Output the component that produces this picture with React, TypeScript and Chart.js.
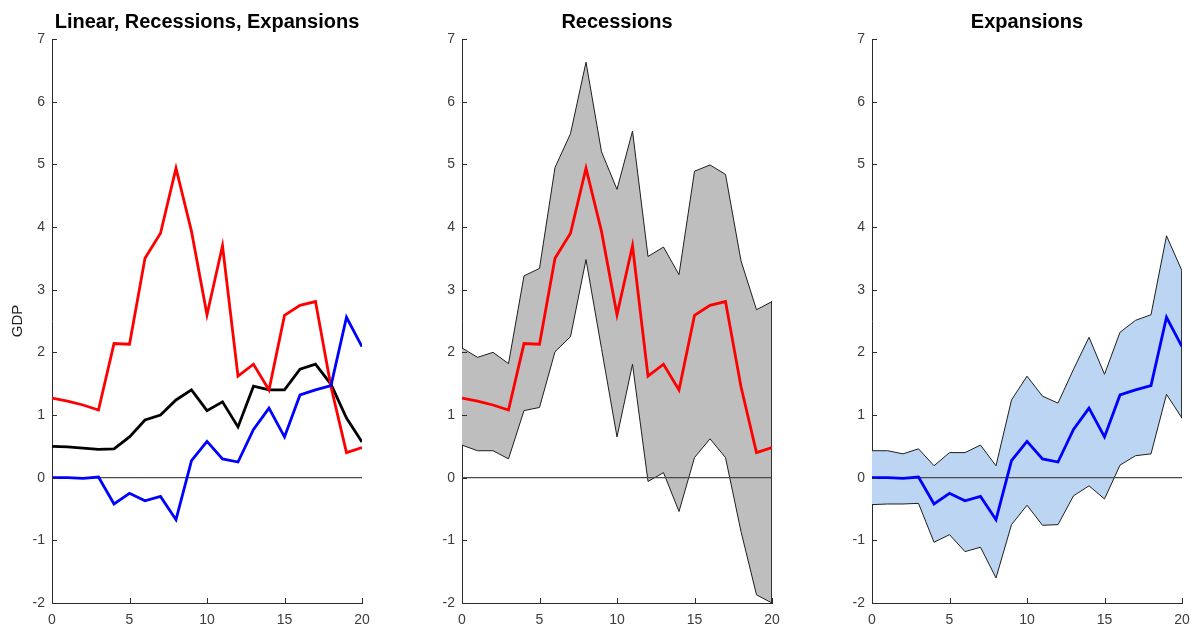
import React, { useEffect, useRef } from "react";
import { Chart, registerables } from "chart.js";

Chart.register(...registerables);

// ---------- data ----------
const horizons = [0, 1, 2, 3, 4, 5, 6, 7, 8, 9, 10, 11, 12, 13, 14, 15, 16, 17, 18, 19, 20];

const linearGDP = [0.5, 0.49, 0.47, 0.45, 0.46, 0.65, 0.92, 1.0, 1.24, 1.4, 1.07, 1.21, 0.81, 1.46, 1.4, 1.4, 1.73, 1.81, 1.49, 0.95, 0.57];

const recessionGDP = [1.27, 1.22, 1.16, 1.08, 2.14, 2.13, 3.5, 3.9, 4.94, 3.93, 2.6, 3.7, 1.62, 1.81, 1.4, 2.59, 2.75, 2.81, 1.45, 0.4, 0.48];
const recessionUpper = [2.07, 1.92, 2.0, 1.82, 3.22, 3.34, 4.95, 5.49, 6.63, 5.2, 4.6, 5.53, 3.53, 3.68, 3.24, 4.89, 4.99, 4.84, 3.46, 2.68, 2.81];
const recessionLower = [0.52, 0.43, 0.43, 0.3, 1.07, 1.12, 2.01, 2.25, 3.48, 2.06, 0.65, 1.81, -0.06, 0.08, -0.54, 0.32, 0.62, 0.32, -0.86, -1.87, -2.0];

const expansionGDP = [0.0, 0.0, -0.01, 0.01, -0.42, -0.25, -0.37, -0.3, -0.67, 0.27, 0.58, 0.3, 0.25, 0.77, 1.11, 0.65, 1.32, 1.4, 1.47, 2.56, 2.09];
const expansionUpper = [0.43, 0.43, 0.38, 0.46, 0.19, 0.4, 0.4, 0.52, 0.19, 1.24, 1.62, 1.3, 1.19, 1.73, 2.24, 1.65, 2.32, 2.51, 2.6, 3.86, 3.3];
const expansionLower = [-0.43, -0.42, -0.42, -0.41, -1.03, -0.91, -1.18, -1.11, -1.6, -0.75, -0.44, -0.76, -0.75, -0.29, -0.13, -0.34, 0.2, 0.35, 0.38, 1.33, 0.95];

const yTickValues = [-2, -1, 0, 1, 2, 3, 4, 5, 6, 7];
const xTickValues = [0, 5, 10, 15, 20];

const panelTitles = ["Linear, Recessions, Expansions", "Recessions", "Expansions"];
const yAxisLabel = "GDP";

// ---------- style ----------
const FONT = "'Liberation Sans', Arial, Helvetica, sans-serif";
const AXIS_COLOR = "#2b2b2b";
const TICK_COLOR = "#3d3d3d";
const RED = "#ff0000";
const BLUE = "#0000ff";
const BLACK = "#000000";
const GRAY_FILL = "#bebebe";
const BLUE_FILL = "#bbd5f2";
const BAND_EDGE = "#1e1e1e";
const ZERO_COLOR = "#4a4a4a";

const PLOT_LEFT = 52;
const PLOT_WIDTH = 310;
const BOTTOM_BOX = 22;
const CANVAS_W = 410;
const CANVAS_H = 625;

const toPoints = (ys: number[]) => horizons.map((h, i) => ({ x: h, y: ys[i] }));
const zeroPoints = () => [
  { x: horizons[0], y: 0 },
  { x: horizons[horizons.length - 1], y: 0 },
];
const edgePoints = (upper: number[], lower: number[]) => {
  const last = horizons.length - 1;
  return [
    { x: horizons[last], y: upper[last] },
    { x: horizons[last], y: lower[last] },
  ];
};

const lineDs = (label: string, ys: number[], color: string) => ({
  label,
  data: toPoints(ys),
  borderColor: color,
  backgroundColor: color,
  borderWidth: 2.8,
  pointRadius: 0,
  tension: 0,
  fill: false,
});

const zeroDs = () => ({
  label: "zero",
  data: zeroPoints(),
  borderColor: ZERO_COLOR,
  borderWidth: 1.1,
  pointRadius: 0,
  fill: false,
});

const bandDatasets = (upper: number[], lower: number[], fillColor: string) => [
  {
    label: "edge",
    data: edgePoints(upper, lower),
    borderColor: BAND_EDGE,
    borderWidth: 1,
    pointRadius: 0,
    fill: false,
  },
  {
    label: "lower",
    data: toPoints(lower),
    borderColor: BAND_EDGE,
    borderWidth: 1,
    pointRadius: 0,
    tension: 0,
    fill: false,
  },
  {
    label: "upper",
    data: toPoints(upper),
    borderColor: BAND_EDGE,
    borderWidth: 1,
    pointRadius: 0,
    tension: 0,
    backgroundColor: fillColor,
    fill: "-1",
  },
];

const inwardTicks = {
  id: "inwardTicks",
  afterDraw(chart: any) {
    const { ctx, chartArea, scales } = chart;
    ctx.save();
    ctx.strokeStyle = AXIS_COLOR;
    ctx.lineWidth = 1;
    ctx.beginPath();
    scales.y.ticks.forEach((t: any) => {
      const py = Math.round(scales.y.getPixelForValue(t.value)) + 0.5;
      ctx.moveTo(chartArea.left, py);
      ctx.lineTo(chartArea.left + 5, py);
    });
    scales.x.ticks.forEach((t: any) => {
      const px = Math.round(scales.x.getPixelForValue(t.value)) + 0.5;
      ctx.moveTo(px, chartArea.bottom);
      ctx.lineTo(px, chartArea.bottom - 5);
    });
    ctx.stroke();
    ctx.restore();
  },
};

type PanelProps = {
  left: number;
  title: string;
  showYLabel: boolean;
  datasets: any[];
};

function Panel({ left, title, showYLabel, datasets }: PanelProps) {
  const ref = useRef<HTMLCanvasElement>(null);
  useEffect(() => {
    if (!ref.current) return;
    const chart = new Chart(ref.current, {
      type: "line",
      data: { datasets },
      plugins: [inwardTicks],
      options: {
        responsive: false,
        animation: false,
        maintainAspectRatio: false,
        layout: { padding: { left: 0, right: CANVAS_W - PLOT_LEFT - PLOT_WIDTH, top: 0, bottom: 0 } },
        plugins: {
          legend: { display: false },
          tooltip: { enabled: false },
          title: {
            display: true,
            text: title,
            fullSize: false,
            color: "#000",
            font: { family: FONT, size: 20, weight: "bold", lineHeight: 1.2 },
            padding: { top: 10, bottom: 5 },
          },
        },
        scales: {
          x: {
            type: "linear",
            min: xTickValues[0],
            max: xTickValues[xTickValues.length - 1],
            afterBuildTicks: (s: any) => {
              s.ticks = xTickValues.map((v) => ({ value: v }));
            },
            afterFit: (s: any) => {
              s.height = BOTTOM_BOX;
            },
            grid: { display: false, drawOnChartArea: false, drawTicks: false },
            border: { display: true, color: AXIS_COLOR, width: 1 },
            ticks: {
              color: TICK_COLOR,
              font: { family: FONT, size: 14 },
              padding: 9,
              maxRotation: 0,
              autoSkip: false,
            },
          },
          y: {
            type: "linear",
            min: yTickValues[0],
            max: yTickValues[yTickValues.length - 1],
            afterBuildTicks: (s: any) => {
              s.ticks = yTickValues.map((v) => ({ value: v }));
            },
            afterFit: (s: any) => {
              s.width = PLOT_LEFT;
            },
            grid: { display: false, drawOnChartArea: false, drawTicks: false },
            border: { display: true, color: AXIS_COLOR, width: 1 },
            ticks: {
              color: TICK_COLOR,
              font: { family: FONT, size: 14 },
              padding: 7,
              autoSkip: false,
            },
            title: {
              display: showYLabel,
              text: yAxisLabel,
              color: "#222",
              font: { family: FONT, size: 15 },
              padding: { top: 9, bottom: 0 },
            },
          },
        },
      } as any,
    });
    return () => chart.destroy();
  }, []);
  return (
    <canvas
      ref={ref}
      width={CANVAS_W}
      height={CANVAS_H}
      style={{ position: "absolute", left, top: 0, width: CANVAS_W, height: CANVAS_H, display: "block" }}
    />
  );
}

export default function App() {
  const panel1 = [
    lineDs("Expansions", expansionGDP, BLUE),
    lineDs("Recessions", recessionGDP, RED),
    lineDs("Linear", linearGDP, BLACK),
    zeroDs(),
  ];
  const panel2 = [lineDs("Recessions", recessionGDP, RED), zeroDs(), ...bandDatasets(recessionUpper, recessionLower, GRAY_FILL)];
  const panel3 = [lineDs("Expansions", expansionGDP, BLUE), zeroDs(), ...bandDatasets(expansionUpper, expansionLower, BLUE_FILL)];
  return (
    <div
      style={{
        position: "fixed",
        left: 0,
        top: 0,
        width: 1192,
        height: 625,
        overflow: "hidden",
        background: "#fff",
      }}
    >
      <Panel left={0} title={panelTitles[0]} showYLabel={true} datasets={panel1} />
      <Panel left={410} title={panelTitles[1]} showYLabel={false} datasets={panel2} />
      <Panel left={820} title={panelTitles[2]} showYLabel={false} datasets={panel3} />
    </div>
  );
}
